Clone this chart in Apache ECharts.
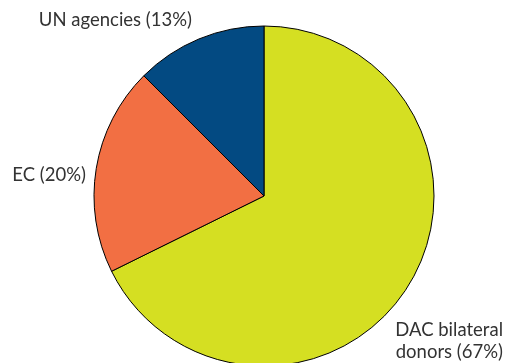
<!DOCTYPE html>
<html><head><meta charset="utf-8">
<script src="https://cdn.jsdelivr.net/npm/echarts@6/dist/echarts.min.js"></script>
<style>html,body{margin:0;padding:0;background:#fff}#c{width:505px;height:363px}</style>
</head><body><div id="c"></div>
<script>
const categories = ["DAC bilateral\ndonors", "EC", "UN agencies"];
const values = [67.7, 19.8, 12.5];
const labelPercents = [67, 20, 13];
const colors = ["#d5df22", "#f26f43", "#034a82"];

const labelPos = [
  {x: 503, y: 341, align: 'right'},
  {x: 86, y: 175, align: 'right'},
  {x: 192, y: 20, align: 'right'}
];

const chart = echarts.init(document.getElementById('c'), null, {renderer: 'canvas'});
chart.setOption({
  animation: false,
  series: [{
    type: 'pie',
    center: [264, 196],
    radius: [0, 170],
    startAngle: 90,
    clockwise: true,
    data: categories.map((n, i) => ({name: n, value: values[i], itemStyle: {color: colors[i]}})),
    itemStyle: {borderColor: '#000', borderWidth: 1},
    label: {
      show: true,
      position: 'outside',
      alignTo: 'none',
      overflow: 'none',
      width: 300,
      formatter: p => p.name + ' (' + labelPercents[p.dataIndex] + '%)',
      fontFamily: 'Lato',
      fontSize: 18.5,
      color: '#333',
      lineHeight: 22
    },
    labelLine: {show: false},
    labelLayout: function (params) {
      const p = labelPos[params.dataIndex];
      return {x: p.x, y: p.y, align: p.align, verticalAlign: 'middle', hideOverlap: false, moveOverlap: null};
    },
    emphasis: {disabled: true}
  }]
});
</script></body></html>
